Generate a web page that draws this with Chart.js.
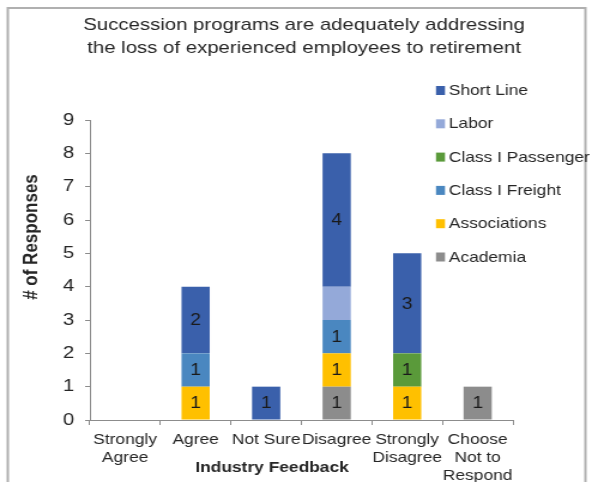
<!DOCTYPE html>
<html>
<head>
<meta charset="utf-8">
<script src="https://cdn.jsdelivr.net/npm/chart.js@4"></script>
<style>
  html, body { margin: 0; padding: 0; background: #fff; overflow: hidden; }
  /* the reference is a horizontally stretched picture, so draw narrow and stretch */
  #wrap { position: absolute; left: 0; top: 0; width: 494px; height: 482px; transform: scaleX(1.1984); transform-origin: 0 0; }
</style>
</head>
<body>
<div id="wrap"><canvas id="chart" width="494" height="482"></canvas></div>
<script>
const categories = [
  ['Strongly', 'Agree'],
  'Agree',
  'Not Sure',
  'Disagree',
  ['Strongly', 'Disagree'],
  ['Choose', 'Not to', 'Respond']
];
const titleLines = ['Succession programs are adequately addressing', 'the loss of experienced employees to retirement'];
const xTitle = 'Industry Feedback';
const yTitle = '# of Responses';

// series, bottom of stack first
const academia = [null, null, null, 1, null, 1];
const associations = [null, 1, null, 1, 1, null];
const classIFreight = [null, 1, null, 1, null, null];
const classIPassenger = [null, null, null, null, 1, null];
const labor = [null, null, null, 1, null, null];
const shortLine = [null, 2, 1, 4, 3, null];

const yTicks = [0, 1, 2, 3, 4, 5, 6, 7, 8, 9];
const unlabeled = ['Labor'];

const FONT = '"Liberation Sans", Arial, sans-serif';
const TEXT = '#262626';

const datasets = [
  { label: 'Academia', data: academia, backgroundColor: '#8c8c8c' },
  { label: 'Associations', data: associations, backgroundColor: '#ffc000' },
  { label: 'Class I Freight', data: classIFreight, backgroundColor: '#4a87c0' },
  { label: 'Class I Passenger', data: classIPassenger, backgroundColor: '#5a9a3a' },
  { label: 'Labor', data: labor, backgroundColor: '#94a9d9' },
  { label: 'Short Line', data: shortLine, backgroundColor: '#3a60ab' }
].map(d => Object.assign(d, { barPercentage: 0.4, categoryPercentage: 1.0, borderWidth: 0 }));

// frame, titles, legend and segment labels
const decorations = {
  id: 'decorations',
  beforeDraw(chart) {
    const ctx = chart.ctx;
    ctx.save();
    ctx.fillStyle = '#fff';
    ctx.fillRect(0, 0, chart.width, chart.height);
    ctx.strokeStyle = '#b0b0b0';
    ctx.lineWidth = 2;
    ctx.strokeRect(6.5, 8, 482, 500);
    ctx.restore();
  },
  afterDatasetsDraw(chart) {
    const ctx = chart.ctx;
    ctx.save();
    ctx.fillStyle = TEXT;
    ctx.textAlign = 'center';
    ctx.textBaseline = 'alphabetic';
    ctx.font = '17px ' + FONT;
    titleLines.forEach((t, i) => ctx.fillText(t, 253.7, 29.5 + i * 23));

    // axis titles
    ctx.textBaseline = 'middle';
    ctx.font = 'bold 14.5px ' + FONT;
    ctx.fillText(xTitle, 227, 468);
    ctx.save();
    ctx.translate(26, 237);
    ctx.rotate(-Math.PI / 2);
    ctx.font = 'bold 17px ' + FONT;
    ctx.fillText(yTitle, 0, 0);
    ctx.restore();

    // segment values
    ctx.font = '16px ' + FONT;
    ctx.fillStyle = '#1a1a1a';
    chart.data.datasets.forEach((ds, di) => {
      if (unlabeled.includes(ds.label)) return;
      chart.getDatasetMeta(di).data.forEach((bar, i) => {
        const v = ds.data[i];
        if (v == null) return;
        const p = bar.getProps(['x', 'y', 'base'], true);
        ctx.fillText(String(v), p.x, (p.y + p.base) / 2 + 1);
      });
    });

    // legend, top of stack first
    ctx.textAlign = 'left';
    ctx.font = '14.5px ' + FONT;
    const items = chart.data.datasets.slice().reverse();
    items.forEach((ds, i) => {
      const y = 90.5 + i * 33.3;
      ctx.fillStyle = ds.backgroundColor;
      ctx.fillRect(363.8, y - 4.5, 7.5, 9);
      ctx.fillStyle = TEXT;
      ctx.fillText(ds.label, 374.5, y + 0.5);
    });
    ctx.restore();
  }
};

new Chart(document.getElementById('chart'), {
  type: 'bar',
  data: { labels: categories, datasets: datasets },
  plugins: [decorations],
  options: {
    responsive: false,
    animation: false,
    layout: { padding: { left: 10, top: 120, right: 66, bottom: 0 } },
    plugins: {
      legend: { display: false },
      title: { display: false },
      tooltip: { enabled: false }
    },
    scales: {
      x: {
        stacked: true,
        grid: { display: true, offset: true, drawOnChartArea: false, drawTicks: true, tickLength: 5, color: '#8c8c8c' },
        border: { display: true, color: '#8c8c8c', width: 1 },
        ticks: {
          autoSkip: false, maxRotation: 0, minRotation: 0, padding: 6,
          color: TEXT, font: { family: FONT, size: 14.5, lineHeight: 1.24 }
        },
        afterFit(scale) { scale.height = 62; }
      },
      y: {
        stacked: true,
        min: 0, max: 9,
        afterBuildTicks(scale) { scale.ticks = yTicks.map(v => ({ value: v })); },
        grid: { display: true, drawOnChartArea: false, drawTicks: true, tickLength: 4, color: '#8c8c8c' },
        border: { display: true, color: '#8c8c8c', width: 1 },
        ticks: { padding: 9, color: TEXT, font: { family: FONT, size: 17 } },
        afterFit(scale) { scale.width = 65; }
      }
    }
  }
});
</script>
</body>
</html>
